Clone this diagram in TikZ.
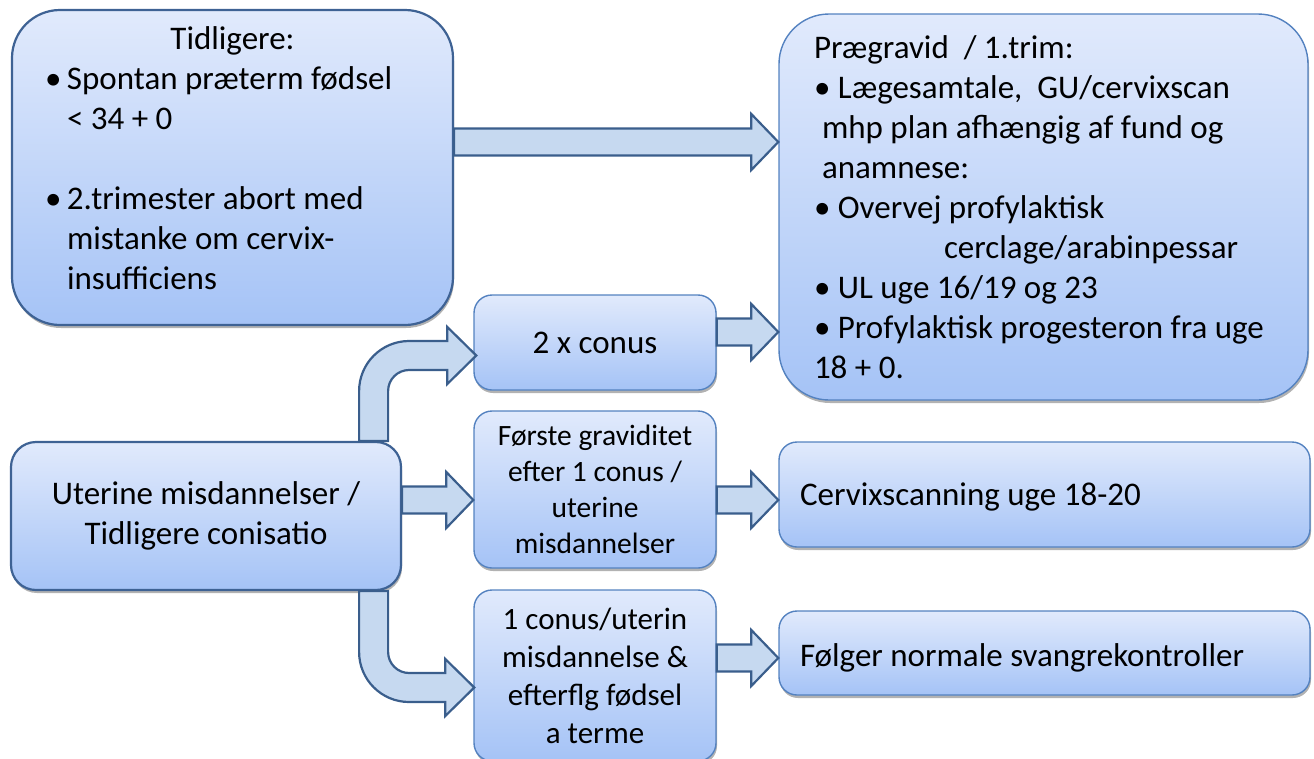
\documentclass[tikz,border=0pt]{standalone}
\usepackage{fontspec}
\setmainfont{Carlito}
\usetikzlibrary{calc,shadows}

\definecolor{boxtop}{RGB}{225,234,252}
\definecolor{boxbot}{RGB}{165,195,246}
\definecolor{boxline}{RGB}{84,130,192}
\definecolor{darkline}{RGB}{62,98,148}
\definecolor{arrowfill}{RGB}{198,217,240}
\definecolor{arrowline}{RGB}{58,94,140}

\tikzset{
  flowbox/.style={rectangle,rounded corners=18pt,draw=boxline,line width=1.4pt,
    top color=boxtop,bottom color=boxbot,
    drop shadow={shadow xshift=1pt,shadow yshift=-3pt,opacity=.3,fill=black},
    font=\fontsize{33}{40}\selectfont,align=center,inner sep=0pt},
  bigbox/.style={flowbox,draw=darkline,line width=2.2pt},
  fatarrow/.style={draw=arrowline,fill=arrowfill,line width=2.2pt,line join=miter}
}

% straight block arrow: from node, to node, height (px from top)
\newcommand{\fatarrow}[3]{%
  \draw[fatarrow] let \p1=(#1.east), \p2=(#2.west) in
    (\x1,-#3pt+13.5pt) -- (\x2-27pt,-#3pt+13.5pt) -- (\x2-27pt,-#3pt+28pt)
    -- (\x2,-#3pt) -- (\x2-27pt,-#3pt-28pt) -- (\x2-27pt,-#3pt-13.5pt)
    -- (\x1,-#3pt-13.5pt) -- cycle;}

\begin{document}
\begin{tikzpicture}[x=1pt,y=-1pt]
	\useasboundingbox (0,0) rectangle (1314,758);

	%left column
	\node[bigbox,rounded corners=48pt,minimum width=441pt,minimum height=315pt] (tidl) at (232.5,167.5)
	  {\parbox{375pt}{\centering Tidligere:\par
	   \raggedright\hangindent=22pt\hangafter=1
	   \makebox[22pt][l]{•}Spontan præterm fødsel\newline < 34 + 0\par
	   \vspace{40pt}
	   \hangindent=22pt\hangafter=1
	   \makebox[22pt][l]{•}2.trimester abort med\newline mistanke om cervix-\newline insufficiens\par
	   \vspace{18pt}}};
	\node[bigbox,rounded corners=25pt,minimum width=390pt,minimum height=148pt] (uter) at (206,516)
	  {Uterine misdannelser /\\Tidligere conisatio};

	%middle column
	\node[flowbox,minimum width=242pt,minimum height=95pt] (conus2) at (595,342.5) {2 x conus};
	\node[flowbox,minimum width=242pt,minimum height=157pt,font=\fontsize{29.5}{36}\selectfont]
	  (forste) at (595,489.5) {Første graviditet\\efter 1 conus /\\uterine\\misdannelser};
	\node[flowbox,minimum width=242pt,minimum height=171pt,font=\fontsize{31}{38}\selectfont]
	  (conus1) at (595,675.5) {1 conus/uterin\\misdannelse \&\\efterflg fødsel\\a terme};

	%right column
	\node[flowbox,rounded corners=50pt,minimum width=529pt,minimum height=386pt] (praeg) at (1043.5,207)
	  {\parbox{459pt}{\raggedright
	   Prægravid\ \ / 1.trim:\\
	   • Lægesamtale,\ \ GU/cervixscan\\
	   \hspace*{8pt}mhp plan afhængig af fund og\\
	   \hspace*{8pt}anamnese:\\
	   • Overvej profylaktisk\\
	   \hspace*{130pt}cerclage/arabinpessar\\
	   • UL uge 16/19 og 23\\
	   • Profylaktisk progesteron fra uge\\
	   18 + 0.}};
	\node[flowbox,minimum width=531pt,minimum height=105pt] (cervix) at (1044.5,494.5)
	  {\parbox{489pt}{\vspace*{5pt}\raggedright Cervixscanning uge 18-20}};
	\node[flowbox,minimum width=531pt,minimum height=84pt] (folger) at (1044.5,653)
	  {\parbox{489pt}{\vspace*{9pt}\raggedright Følger normale svangrekontroller}};

	%straight arrows
	\fatarrow{tidl}{praeg}{142}
	\fatarrow{conus2}{praeg}{332}
	\fatarrow{uter}{forste}{500}
	\fatarrow{forste}{cervix}{500}
	\fatarrow{conus1}{folger}{658}

	%bent arrows
	\draw[fatarrow] let \p1=(uter.north east), \p2=(conus2.west),
	  \p3=(\x2+3pt,\y2-13pt) in
	  (\x1-43pt,\y1) -- (\x1-43pt,\y3-35.5pt) arc[start angle=180,end angle=90,radius=50pt]
	  -- (\x3-29pt,\y3+14.5pt) -- (\x3-29pt,\y3+28.5pt) -- (\x3,\y3)
	  -- (\x3-29pt,\y3-28.5pt) -- (\x3-29pt,\y3-14.5pt) -- (\x1+7pt,\y3-14.5pt)
	  arc[start angle=90,end angle=180,radius=21pt] -- (\x1-14pt,\y1) -- cycle; %up to 2 x conus
	\draw[fatarrow] let \p1=(uter.south east), \p2=(conus1.west),
	  \p3=(\x2+1pt,\y2-12pt) in
	  (\x1-43pt,\y1) -- (\x1-43pt,\y3+35.5pt) arc[start angle=180,end angle=270,radius=50pt]
	  -- (\x3-29pt,\y3-14.5pt) -- (\x3-29pt,\y3-28.5pt) -- (\x3,\y3)
	  -- (\x3-29pt,\y3+28.5pt) -- (\x3-29pt,\y3+14.5pt) -- (\x1+7pt,\y3+14.5pt)
	  arc[start angle=270,end angle=180,radius=21pt] -- (\x1-14pt,\y1) -- cycle; %down to 1 conus
\end{tikzpicture}
\end{document}
